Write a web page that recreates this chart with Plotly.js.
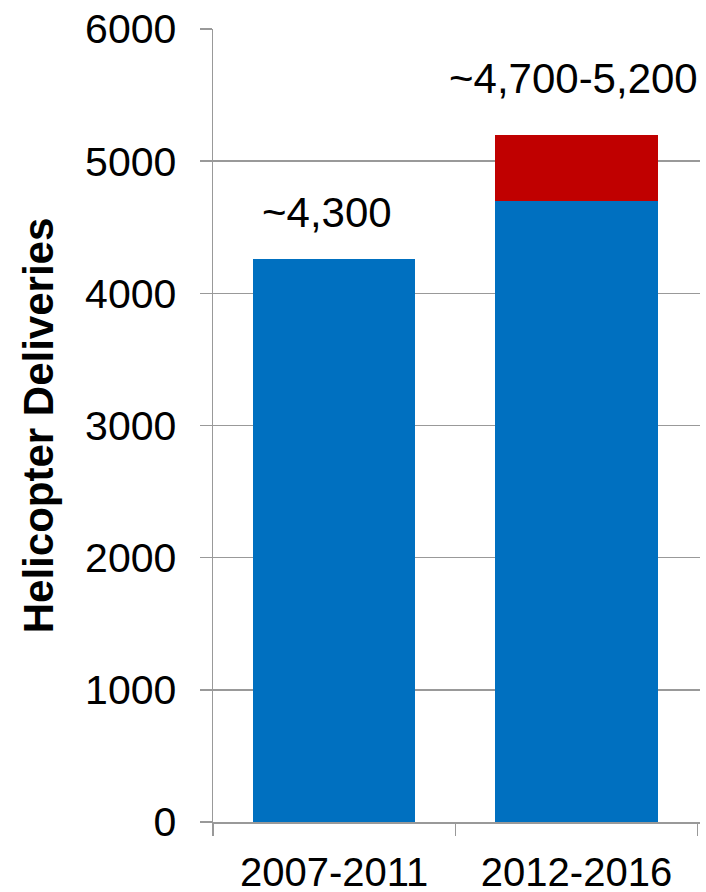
<!DOCTYPE html>
<html>
<head>
<meta charset="utf-8">
<script src="https://cdn.plot.ly/plotly-3.0.1.min.js"></script>
<style>
  html, body { margin: 0; padding: 0; background: #ffffff; }
  #chart { width: 706px; height: 892px; }
</style>
</head>
<body>
<div id="chart"></div>
<script>
const categories = ['2007-2011', '2012-2016'];
const baseValues = [4260, 4700];
const rangeValues = [0, 500];
const valueLabels = ['~4,300', '~4,700-5,200'];
const yTickVals = [0, 1000, 2000, 3000, 4000, 5000, 6000];
const yTitle = 'Helicopter Deliveries';

const FONT = '"Liberation Sans", Arial, Helvetica, sans-serif';
const GRID = '#999999';

const traces = [
  {
    type: 'bar',
    x: categories,
    y: baseValues,
    marker: { color: '#0070C0' },
    hoverinfo: 'skip'
  },
  {
    type: 'bar',
    x: categories,
    y: rangeValues,
    marker: { color: '#C00000' },
    hoverinfo: 'skip'
  }
];

const totals = baseValues.map((v, i) => v + rangeValues[i]);
const shifts = [[-7, 21], [-3, 31]];
const annotations = categories.map((c, i) => ({
  x: c,
  y: totals[i],
  xref: 'x',
  yref: 'y',
  text: valueLabels[i],
  showarrow: false,
  yanchor: 'bottom',
  xanchor: 'center',
  xshift: shifts[i][0],
  yshift: shifts[i][1],
  font: { family: FONT, size: 42, color: '#000000' }
}));

const layout = {
  width: 706,
  height: 892,
  margin: { l: 213, r: 6, t: 29, b: 70, pad: 0 },
  paper_bgcolor: '#ffffff',
  plot_bgcolor: '#ffffff',
  barmode: 'stack',
  bargap: 0.33,
  showlegend: false,
  font: { family: FONT, size: 41, color: '#000000' },
  xaxis: {
    type: 'category',
    showline: true,
    linecolor: GRID,
    linewidth: 1.5,
    ticks: 'outside',
    tickson: 'boundaries',
    ticklen: 12,
    tickcolor: GRID,
    tickwidth: 1.5,
    ticklabelstandoff: 14,
    showgrid: false,
    tickfont: { family: FONT, size: 40, color: '#000000' },
    fixedrange: true
  },
  yaxis: {
    range: [0, 6000],
    tickvals: yTickVals,
    ticktext: yTickVals.map(String),
    showline: true,
    linecolor: GRID,
    linewidth: 1.5,
    ticks: 'outside',
    ticklen: 12,
    tickcolor: GRID,
    tickwidth: 1.5,
    ticklabelstandoff: 15,
    showgrid: true,
    gridcolor: GRID,
    gridwidth: 1.5,
    zeroline: false,
    tickfont: { family: FONT, size: 41, color: '#000000' },
    title: {
      text: '<b>' + yTitle + '</b>',
      font: { family: FONT, size: 42, color: '#000000' },
      standoff: 18
    },
    fixedrange: true
  },
  annotations: annotations
};

Plotly.newPlot('chart', traces, layout, { displayModeBar: false, staticPlot: true });
</script>
</body>
</html>
